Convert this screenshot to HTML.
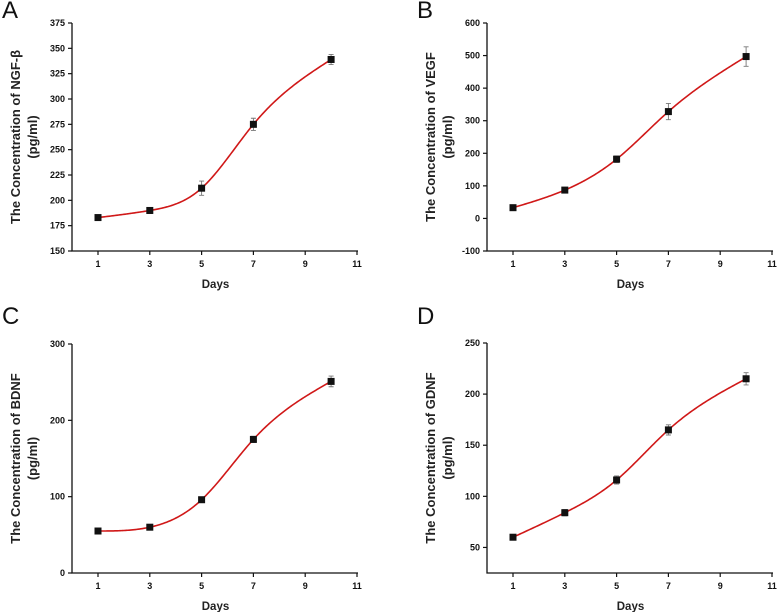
<!DOCTYPE html>
<html><head><meta charset="utf-8"><style>
html,body{margin:0;padding:0;background:#fff;}
svg{display:block;font-family:"Liberation Sans",Arial,sans-serif;}
.tk{font-size:9px;font-weight:bold;fill:#111;}
.ttl{font-size:11.5px;font-weight:bold;fill:#222;}
.lt{font-size:24px;fill:#111;}
</style></head><body>
<svg id="fig" width="777" height="612" viewBox="0 0 777 612"></svg>
<script>
const days = [1,3,5,7,10];
const xTicks = [1,3,5,7,9,11];
const seriesA = [183,190,212,275,339];
const errA = [2,3,7,6,5];
const seriesB = [33,87,182,328,497];
const errB = [6,8,10,25,30];
const seriesC = [55,60,96,175,251];
const errC = [3,3,3,4,7];
const seriesD = [60,84,116,165,215];
const errD = [2,3,4,5,6];
const ticksA = [150,175,200,225,250,275,300,325,350,375];
const ticksB = [-100,0,100,200,300,400,500,600];
const ticksC = [0,100,200,300];
const ticksD = [50,100,150,200,250];
const titleA = ["The Concentration of NGF-β","(pg/ml)"];
const titleB = ["The Concentration of VEGF","(pg/ml)"];
const titleC = ["The Concentration of BDNF","(pg/ml)"];
const titleD = ["The Concentration of GDNF","(pg/ml)"];

const NS="http://www.w3.org/2000/svg";
const svg=document.getElementById('fig');
function mk(tag,attrs,parent){const e=document.createElementNS(NS,tag);for(const k in attrs)e.setAttribute(k,attrs[k]);(parent||svg).appendChild(e);return e;}

function spline(xs,ys){
  const n=xs.length,h=[],a=[],l=[1],mu=[0],z=[0],c=new Array(n).fill(0),b=[],d=[];
  for(let i=0;i<n-1;i++)h.push(xs[i+1]-xs[i]);
  for(let i=1;i<n-1;i++)a[i]=3/h[i]*(ys[i+1]-ys[i])-3/h[i-1]*(ys[i]-ys[i-1]);
  for(let i=1;i<n-1;i++){l[i]=2*(xs[i+1]-xs[i-1])-h[i-1]*mu[i-1];mu[i]=h[i]/l[i];z[i]=(a[i]-h[i-1]*z[i-1])/l[i];}
  z[n-1]=0;
  for(let j=n-2;j>=0;j--){c[j]=z[j]-mu[j]*c[j+1];b[j]=(ys[j+1]-ys[j])/h[j]-h[j]*(c[j+1]+2*c[j])/3;d[j]=(c[j+1]-c[j])/(3*h[j]);}
  return function(x){let i=0;while(i<n-2&&x>xs[i+1])i++;const t=x-xs[i];return ys[i]+b[i]*t+c[i]*t*t+d[i]*t*t*t;};
}

function panel(key,letter,ox,oy,yTop,yBot,vTop,vBot,ticks,vals,errs,title){
  const g=mk('g',{});
  
  
  const L=ox, x1=ox+26, x11=ox+285;
  const sx=v=>x1+(v-1)*(x11-x1)/10;
  const sy=v=>yBot+(v-vBot)*(yTop-yBot)/(vTop-vBot);
  const lt=mk('text',{x:ox-70,y:oy-2,class:'lt'},g);lt.textContent=letter;
  
  const ax=mk('path',{d:`M${L},${yTop}V${yBot}H${x11+1}`,stroke:'#111','stroke-width':1.3,fill:'none'},g);
  
  ticks.forEach(t=>{const y=sy(t);mk('line',{x1:L-4,x2:L,y1:y,y2:y,stroke:'#111','stroke-width':1.2},g);
    const tx=mk('text',{x:L-7,y:y+3,class:'tk','text-anchor':'end'},g);tx.textContent=t;
    });
  xTicks.forEach(t=>{const x=sx(t);mk('line',{x1:x,x2:x,y1:yBot,y2:yBot+4,stroke:'#111','stroke-width':1.2},g);
    const tx=mk('text',{x:x,y:yBot+16,class:'tk','text-anchor':'middle'},g);tx.textContent=t;
    });
  const xt=mk('text',{x:(L+x11)/2+1,y:yBot+37,class:'ttl','text-anchor':'middle'},g);xt.textContent='Days';
  
  const cy=(yTop+yBot)/2;
  title.forEach((s,i)=>{const x=ox-52+i*17;const t=mk('text',{x:x,y:cy,class:'ttl','text-anchor':'middle',transform:`rotate(-90 ${x} ${cy})`,style:'font-size:13px'},g);t.textContent=s;
    });
  const f=spline(days,vals);let d='';
  for(let x=days[0];x<=days[days.length-1]+1e-9;x+=0.05){d+=(d?'L':'M')+sx(x).toFixed(2)+','+sy(f(x)).toFixed(2);}
  const cv=mk('path',{d:d,stroke:'#d01818','stroke-width':1.6,fill:'none'},g);
  
  days.forEach((dd,i)=>{const x=sx(dd),y=sy(vals[i]),e=errs[i];
    const eb=mk('path',{d:`M${x},${sy(vals[i]+e)}V${sy(vals[i]-e)}M${x-2.5},${sy(vals[i]+e)}h5M${x-2.5},${sy(vals[i]-e)}h5`,stroke:'#777','stroke-width':0.9,fill:'none'},g);
    
    const r=mk('rect',{x:x-3.5,y:y-3.5,width:7,height:7,fill:'#111'},g);
    });
}
panel('a','A',72,20,23,251,375,150,ticksA,seriesA,errA,titleA);
panel('b','B',487,20,23,251,600,-100,ticksB,seriesB,errB,titleB);
panel('c','C',72,326,344,573,300,0,ticksC,seriesC,errC,titleC);
panel('d','D',487,326,343,573,250,25,ticksD,seriesD,errD,titleD);
</script>
</body></html>
